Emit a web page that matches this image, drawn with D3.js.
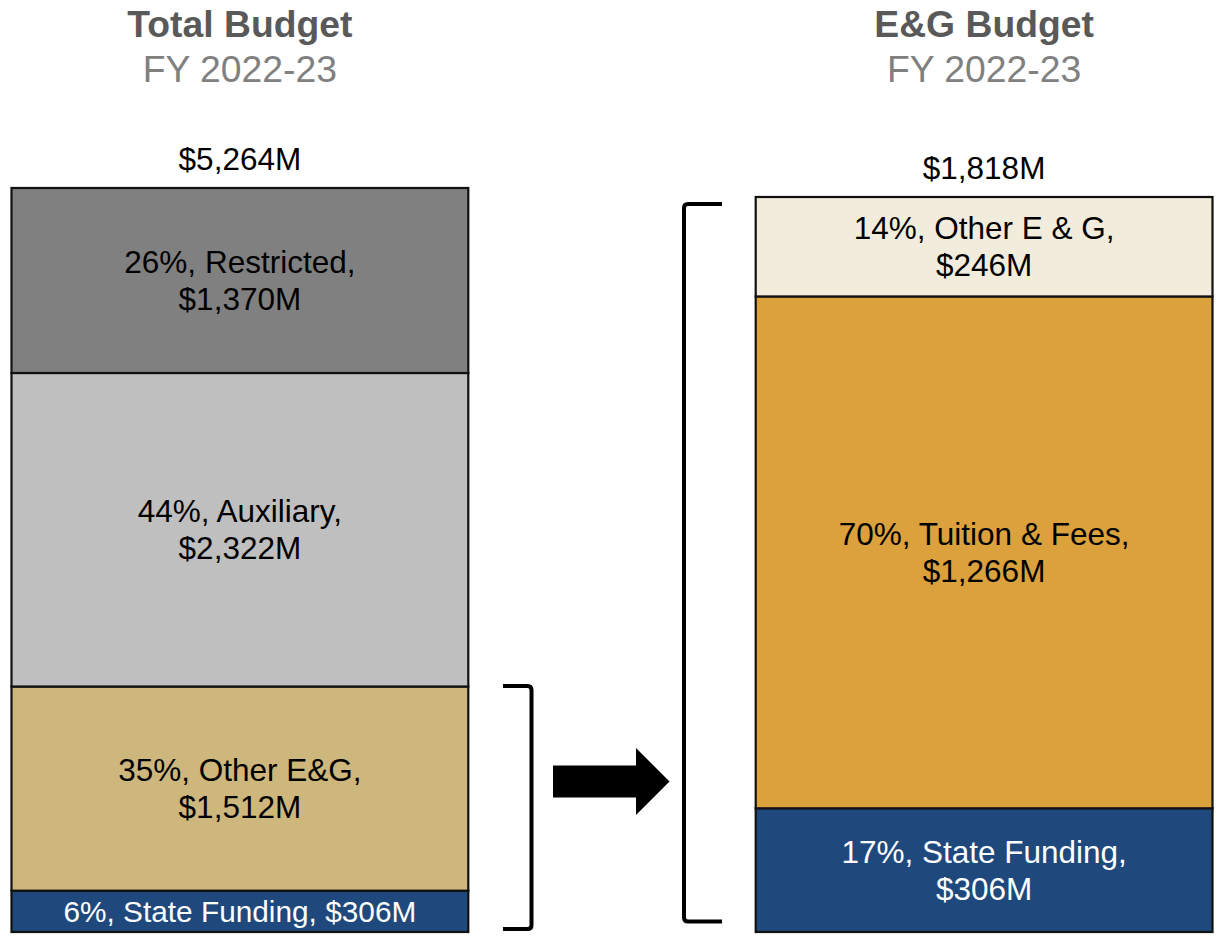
<!DOCTYPE html>
<html>
<head>
<meta charset="utf-8">
<script src="https://cdn.jsdelivr.net/npm/d3@7"></script>
<style>
  html, body { margin: 0; padding: 0; background: #fff; }
  svg { display: block; font-family: Helvetica, Arial, "Liberation Sans", sans-serif; }
</style>
</head>
<body>
<svg id="chart" width="1217" height="937"></svg>
<script>
// Total budget, stacked bottom to top
const totalCategories = ["State Funding", "Other E&G", "Auxiliary", "Restricted"];
const totalValues = [306, 1512, 2322, 1370];
const totalPercents = [6, 35, 44, 26];
const totalColors = ["#1f497d", "#cdb77d", "#bfbfbf", "#808080"];
const totalLabel = 5264;

// E&G budget, stacked bottom to top
const egCategories = ["State Funding", "Tuition & Fees", "Other E & G"];
const egValues = [306, 1266, 246];
const egPercents = [17, 70, 14];
const egColors = ["#1f497d", "#dba13c", "#f2ecdd"];
const egLabel = 1818;

const panels = ["Total Budget", "E&G Budget"];
const subtitle = "FY 2022-23";

const svg = d3.select("#chart");
const fmt = d3.format(",");

const x = d3.scaleBand().domain(panels).range([11.5, 1212.5]).paddingInner(0.3862);

function stack(cats, vals, pcts, cols) {
  let acc = 0;
  return cats.map((c, i) => {
    const d = { name: c, value: vals[i], pct: pcts[i], color: cols[i], y0: acc, y1: acc + vals[i] };
    acc += vals[i];
    return d;
  });
}

const totalStack = stack(totalCategories, totalValues, totalPercents, totalColors);
const egStack = stack(egCategories, egValues, egPercents, egColors);

const yTotal = d3.scaleLinear().domain([0, d3.sum(totalValues)]).range([932, 188]);
const yEg = d3.scaleLinear().domain([0, d3.sum(egValues)]).range([932, 197]);

function drawPanel(panel, data, y, headline) {
  const g = svg.append("g");
  const x0 = x(panel), w = x.bandwidth(), cx = x0 + w / 2;

  g.append("text").attr("x", cx).attr("y", 37).attr("text-anchor", "middle")
    .attr("font-size", 37.3).attr("font-weight", "bold").attr("fill", "#595959").text(panel);
  g.append("text").attr("x", cx).attr("y", 82).attr("text-anchor", "middle")
    .attr("font-size", 37.3).attr("fill", "#808080").text(subtitle);

  const top = y(d3.sum(data, d => d.value));
  g.append("text").attr("x", cx).attr("y", top - 18).attr("text-anchor", "middle")
    .attr("font-size", 31.5).attr("fill", "#000").text("$" + fmt(headline) + "M");

  g.selectAll("rect.seg").data(data).join("rect").attr("class", "seg")
    .attr("x", x0).attr("width", w)
    .attr("y", d => y(d.y1)).attr("height", d => y(d.y0) - y(d.y1))
    .attr("fill", d => d.color).attr("stroke", "#111").attr("stroke-width", 2.2);

  data.forEach(d => {
    const c = (y(d.y0) + y(d.y1)) / 2;
    const txtColor = d.color === "#1f497d" ? "#fff" : "#000";
    const h = y(d.y0) - y(d.y1);
    const t = g.append("text").attr("text-anchor", "middle").attr("fill", txtColor);
    if (h < 60) {
      t.attr("font-size", 29.8).attr("x", cx).attr("y", c + 10.5)
        .text(`${d.pct}%, ${d.name}, $${fmt(d.value)}M`);
    } else {
      t.attr("font-size", 31.5);
      t.append("tspan").attr("x", cx).attr("y", c - 7.5).text(`${d.pct}%, ${d.name},`);
      t.append("tspan").attr("x", cx).attr("y", c + 29.5).text(`$${fmt(d.value)}M`);
    }
  });
}

drawPanel(panels[0], totalStack, yTotal, totalLabel);
drawPanel(panels[1], egStack, yEg, egLabel);

// Brackets and arrow linking the E&G part of the total budget to the E&G budget
const eg0 = totalStack[0].y0, eg1 = totalStack[1].y1;
const lbTop = yTotal(eg1) - 0.5, lbBot = yTotal(eg0) - 3;
const lbX = 531.5, r = 4;
svg.append("path")
  .attr("d", `M503,${lbTop} L${lbX - r},${lbTop} Q${lbX},${lbTop} ${lbX},${lbTop + r} L${lbX},${lbBot - r} Q${lbX},${lbBot} ${lbX - r},${lbBot} L503,${lbBot}`)
  .attr("fill", "none").attr("stroke", "#000").attr("stroke-width", 4);

const rbTop = yEg(d3.sum(egValues)) + 7, rbBot = yEg(0) - 10.5;
const rbX = 684;
svg.append("path")
  .attr("d", `M722,${rbTop} L${rbX + r},${rbTop} Q${rbX},${rbTop} ${rbX},${rbTop + r} L${rbX},${rbBot - r} Q${rbX},${rbBot} ${rbX + r},${rbBot} L722,${rbBot}`)
  .attr("fill", "none").attr("stroke", "#000").attr("stroke-width", 4);

const ay = 781.5;
svg.append("path")
  .attr("d", `M553,${ay - 16} L636,${ay - 16} L636,${ay - 33.5} L669.5,${ay} L636,${ay + 33.5} L636,${ay + 16} L553,${ay + 16} Z`)
  .attr("fill", "#000");
</script>
</body>
</html>
